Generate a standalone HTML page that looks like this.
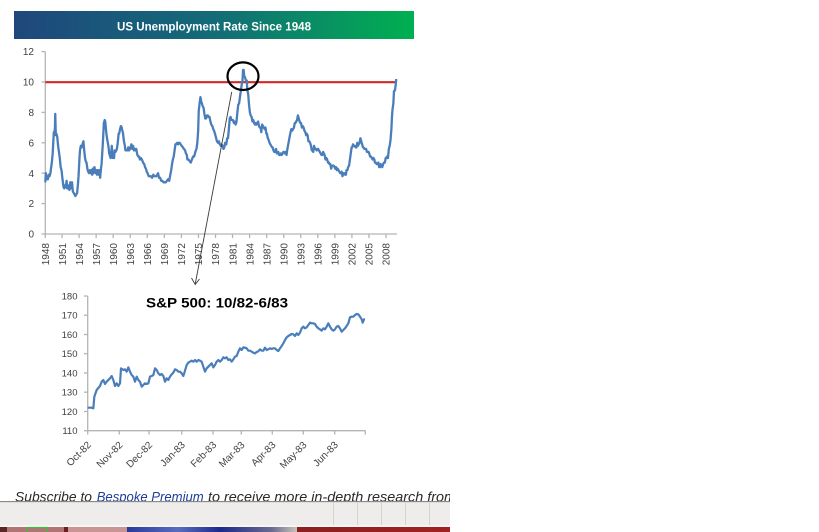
<!DOCTYPE html>
<html>
<head>
<meta charset="utf-8">
<style>
  html,body{margin:0;padding:0;background:#fff;}
  body{width:819px;height:532px;overflow:hidden;}
  svg{display:block;}
  text{font-family:"Liberation Sans",Arial,sans-serif;}
</style>
</head>
<body>
<svg width="819" height="532" viewBox="0 0 819 532" xmlns="http://www.w3.org/2000/svg">
  <defs>
    <linearGradient id="hdr" x1="0" y1="0" x2="1" y2="0">
      <stop offset="0" stop-color="#1f477c"/>
      <stop offset="0.5" stop-color="#136b78"/>
      <stop offset="1" stop-color="#00b050"/>
    </linearGradient>
    <linearGradient id="tbBlue" x1="0" y1="0" x2="1" y2="0">
      <stop offset="0" stop-color="#2a3a9a"/>
      <stop offset="0.3" stop-color="#5a6cc0"/>
      <stop offset="0.55" stop-color="#1c2a8c"/>
      <stop offset="0.85" stop-color="#6a6a90"/>
      <stop offset="1" stop-color="#c8c4b8"/>
    </linearGradient>
    <linearGradient id="tbRed" x1="0" y1="0" x2="1" y2="0">
      <stop offset="0" stop-color="#8a2020"/>
      <stop offset="1" stop-color="#a02222"/>
    </linearGradient>
    <clipPath id="txtclip"><rect x="0" y="480" width="450" height="21"/></clipPath>
  </defs>

  <rect width="819" height="532" fill="#fff"/>

  <!-- Header -->
  <rect x="14" y="11" width="400" height="28" fill="url(#hdr)"/>
  <text x="214" y="30.5" text-anchor="middle" font-size="12" font-weight="bold" fill="#fff" textLength="194" lengthAdjust="spacingAndGlyphs">US Unemployment Rate Since 1948</text>

  <!-- Top chart axes -->
  <g stroke="#b4b4b4" stroke-width="1.3" fill="none">
    <line x1="45.3" y1="51.6" x2="45.3" y2="234"/>
    <line x1="45.3" y1="234" x2="397" y2="234"/>
    <line x1="41.5" y1="51.6" x2="45.3" y2="51.6"/>
    <line x1="41.5" y1="82" x2="45.3" y2="82"/>
    <line x1="41.5" y1="112.4" x2="45.3" y2="112.4"/>
    <line x1="41.5" y1="142.8" x2="45.3" y2="142.8"/>
    <line x1="41.5" y1="173.2" x2="45.3" y2="173.2"/>
    <line x1="41.5" y1="203.6" x2="45.3" y2="203.6"/>
    <line x1="41.5" y1="234" x2="45.3" y2="234"/>
    <line x1="45.3" y1="234" x2="45.3" y2="238"/>
    <line x1="62.05" y1="234" x2="62.05" y2="238"/>
    <line x1="79.1" y1="234" x2="79.1" y2="238"/>
    <line x1="96.15" y1="234" x2="96.15" y2="238"/>
    <line x1="113.2" y1="234" x2="113.2" y2="238"/>
    <line x1="130.25" y1="234" x2="130.25" y2="238"/>
    <line x1="147.3" y1="234" x2="147.3" y2="238"/>
    <line x1="164.35" y1="234" x2="164.35" y2="238"/>
    <line x1="181.4" y1="234" x2="181.4" y2="238"/>
    <line x1="198.45" y1="234" x2="198.45" y2="238"/>
    <line x1="215.5" y1="234" x2="215.5" y2="238"/>
    <line x1="232.55" y1="234" x2="232.55" y2="238"/>
    <line x1="249.6" y1="234" x2="249.6" y2="238"/>
    <line x1="266.65" y1="234" x2="266.65" y2="238"/>
    <line x1="283.7" y1="234" x2="283.7" y2="238"/>
    <line x1="300.75" y1="234" x2="300.75" y2="238"/>
    <line x1="317.8" y1="234" x2="317.8" y2="238"/>
    <line x1="334.85" y1="234" x2="334.85" y2="238"/>
    <line x1="351.9" y1="234" x2="351.9" y2="238"/>
    <line x1="368.95" y1="234" x2="368.95" y2="238"/>
    <line x1="386" y1="234" x2="386" y2="238"/>
  </g>

  <!-- Top y labels -->
  <g font-size="10" fill="#404040" text-anchor="end">
    <text x="34" y="55.2">12</text>
    <text x="34" y="85.6">10</text>
    <text x="34" y="116">8</text>
    <text x="34" y="146.4">6</text>
    <text x="34" y="176.8">4</text>
    <text x="34" y="207.2">2</text>
    <text x="34" y="237.6">0</text>
  </g>

  <!-- Top x labels -->
  <g font-size="10" fill="#404040" text-anchor="end">
    <text transform="translate(49,243) rotate(-90)">1948</text>
    <text transform="translate(65.75,243) rotate(-90)">1951</text>
    <text transform="translate(82.8,243) rotate(-90)">1954</text>
    <text transform="translate(99.85,243) rotate(-90)">1957</text>
    <text transform="translate(116.9,243) rotate(-90)">1960</text>
    <text transform="translate(133.95,243) rotate(-90)">1963</text>
    <text transform="translate(151,243) rotate(-90)">1966</text>
    <text transform="translate(168.05,243) rotate(-90)">1969</text>
    <text transform="translate(185.1,243) rotate(-90)">1972</text>
    <text transform="translate(202.15,243) rotate(-90)">1975</text>
    <text transform="translate(219.2,243) rotate(-90)">1978</text>
    <text transform="translate(236.25,243) rotate(-90)">1981</text>
    <text transform="translate(253.3,243) rotate(-90)">1984</text>
    <text transform="translate(270.35,243) rotate(-90)">1987</text>
    <text transform="translate(287.4,243) rotate(-90)">1990</text>
    <text transform="translate(304.45,243) rotate(-90)">1993</text>
    <text transform="translate(321.5,243) rotate(-90)">1996</text>
    <text transform="translate(338.55,243) rotate(-90)">1999</text>
    <text transform="translate(355.6,243) rotate(-90)">2002</text>
    <text transform="translate(372.65,243) rotate(-90)">2005</text>
    <text transform="translate(389.7,243) rotate(-90)">2008</text>
  </g>

  <!-- Red 10% line -->
  <line x1="45.3" y1="82.2" x2="396.5" y2="82.2" stroke="#cf2a28" stroke-width="2.2"/>

  <!-- Unemployment series -->
  <g transform="matrix(5.683 0 0 -15.2 45.3 234)">
    <polyline fill="none" stroke="#4a7ebb" stroke-width="2.3" stroke-linejoin="round" vector-effect="non-scaling-stroke" points="0,3.4 0.1,4.0 0.2,3.6 0.3,3.8 0.45,3.6 0.6,3.9 0.75,3.8 0.9,4.0 1.0,4.3 1.15,4.7 1.3,5.3 1.4,6.0 1.5,6.7 1.6,6.6 1.7,7.0 1.75,7.9 1.85,6.5 1.95,6.6 2.1,6.4 2.25,5.8 2.4,5.4 2.55,5.0 2.7,4.4 2.85,4.2 3.0,3.7 3.1,3.4 3.2,3.1 3.35,3.0 3.5,3.2 3.6,3.1 3.75,3.5 3.85,3.0 4.0,3.2 4.1,3.0 4.25,2.9 4.4,3.4 4.5,3.0 4.6,3.1 4.7,3.4 4.85,2.8 5.0,2.7 5.15,2.6 5.3,2.5 5.45,2.6 5.6,2.7 5.75,3.3 5.85,3.8 6.0,4.9 6.1,5.5 6.25,5.8 6.4,5.7 6.55,5.9 6.7,6.1 6.8,5.7 6.9,5.3 7.0,5.0 7.1,4.8 7.25,4.7 7.4,4.3 7.55,4.1 7.7,4.0 7.85,4.2 8.0,4.0 8.1,4.2 8.25,3.9 8.35,4.3 8.5,4.0 8.65,4.4 8.8,4.1 8.9,4.0 9.0,4.2 9.1,3.9 9.25,4.2 9.4,3.9 9.55,4.2 9.65,3.7 9.8,4.3 9.9,4.6 10.0,5.2 10.1,5.8 10.2,6.5 10.3,7.3 10.45,7.5 10.55,7.4 10.65,7.0 10.75,6.6 10.9,6.2 11.0,6.0 11.1,5.8 11.25,5.3 11.4,5.1 11.5,5.0 11.6,5.3 11.7,5.8 11.8,5.2 11.9,5.0 12.0,5.2 12.1,5.0 12.2,5.5 12.35,5.4 12.5,5.5 12.6,5.6 12.75,6.0 12.9,6.6 13.0,6.6 13.15,6.9 13.3,7.1 13.45,7.0 13.55,6.8 13.65,6.7 13.8,6.2 13.9,6.0 14.0,5.8 14.1,5.5 14.3,5.5 14.45,5.5 14.6,5.7 14.75,5.5 14.9,5.6 15.0,5.7 15.15,5.9 15.3,5.6 15.45,5.8 15.6,5.5 15.75,5.6 15.9,5.5 16.0,5.6 16.2,5.2 16.35,5.1 16.5,5.1 16.65,4.9 16.8,5.0 17.0,4.9 17.2,4.7 17.4,4.6 17.55,4.4 17.7,4.3 17.85,4.1 18.0,4.0 18.2,3.8 18.4,3.8 18.6,3.8 18.8,3.7 19.0,3.9 19.2,3.8 19.4,3.8 19.55,3.8 19.7,3.9 19.85,4.0 20.0,3.7 20.2,3.7 20.4,3.5 20.6,3.5 20.8,3.4 21.0,3.4 21.2,3.4 21.4,3.5 21.6,3.6 21.8,3.5 22.0,3.9 22.15,4.2 22.3,4.6 22.45,4.9 22.6,5.1 22.75,5.5 22.9,5.9 23.0,5.9 23.2,6.0 23.35,5.9 23.5,6.0 23.65,6.0 23.8,5.9 24.0,5.8 24.2,5.7 24.4,5.6 24.6,5.5 24.75,5.3 24.9,5.2 25.0,4.9 25.2,4.9 25.4,4.8 25.6,4.7 25.8,4.9 26.0,5.1 26.2,5.1 26.4,5.4 26.6,5.6 26.75,6.0 26.9,6.8 27.0,8.1 27.15,8.6 27.3,9.0 27.45,8.7 27.55,8.6 27.7,8.4 27.85,8.3 28.0,7.9 28.15,7.6 28.3,7.6 28.45,7.8 28.6,7.8 28.75,7.7 28.9,7.7 29.0,7.5 29.2,7.2 29.4,7.1 29.55,6.9 29.7,6.8 29.85,6.6 30.0,6.4 30.2,6.1 30.4,6.0 30.55,6.1 30.7,5.9 30.9,5.8 31.0,5.9 31.2,5.8 31.35,5.6 31.5,5.7 31.65,6.0 31.85,5.9 32.0,6.3 32.15,6.3 32.3,6.9 32.45,7.6 32.6,7.7 32.75,7.5 32.9,7.5 33.0,7.5 33.2,7.3 33.35,7.4 33.5,7.2 33.65,7.4 33.8,8.0 33.95,8.5 34.1,8.6 34.25,9.0 34.4,9.4 34.55,9.8 34.7,10.1 34.8,10.8 34.9,10.8 35.0,10.4 35.15,10.3 35.3,10.1 35.45,10.1 35.55,9.5 35.7,9.2 35.85,8.5 36.0,8.0 36.15,7.8 36.3,7.7 36.45,7.4 36.6,7.5 36.75,7.3 36.9,7.2 37.0,7.3 37.15,7.2 37.3,7.3 37.45,7.4 37.6,7.1 37.75,7.0 37.9,7.0 38.0,6.7 38.15,7.2 38.3,7.1 38.45,7.0 38.6,6.9 38.75,7.0 38.9,6.6 39.0,6.6 39.15,6.3 39.3,6.2 39.45,6.0 39.6,5.9 39.75,5.8 39.9,5.7 40.0,5.7 40.15,5.5 40.3,5.4 40.45,5.4 40.6,5.6 40.75,5.3 40.9,5.3 41.0,5.4 41.15,5.2 41.3,5.2 41.45,5.3 41.6,5.2 41.75,5.3 41.9,5.4 42.0,5.4 42.15,5.3 42.3,5.4 42.45,5.2 42.6,5.6 42.75,5.9 42.9,6.2 43.0,6.4 43.15,6.7 43.3,6.9 43.45,6.8 43.6,6.9 43.75,7.0 43.9,7.3 44.0,7.3 44.15,7.4 44.3,7.5 44.45,7.8 44.6,7.6 44.75,7.4 44.9,7.3 45.0,7.3 45.15,7.0 45.3,7.1 45.45,7.0 45.6,6.8 45.75,6.7 45.9,6.5 46.0,6.6 46.15,6.5 46.3,6.1 46.45,6.1 46.6,6.0 46.75,5.8 46.9,5.5 47.0,5.6 47.15,5.4 47.3,5.8 47.45,5.6 47.6,5.6 47.75,5.5 47.9,5.6 48.0,5.6 48.15,5.5 48.3,5.4 48.45,5.3 48.6,5.2 48.75,5.2 48.9,5.4 49.0,5.3 49.15,5.2 49.3,4.9 49.45,5.0 49.6,4.9 49.75,4.7 49.9,4.7 50.0,4.6 50.15,4.6 50.3,4.3 50.45,4.5 50.6,4.5 50.75,4.5 50.9,4.4 51.0,4.3 51.15,4.4 51.3,4.2 51.45,4.3 51.6,4.2 51.75,4.1 51.9,4.0 52.0,4.0 52.15,4.1 52.3,3.8 52.45,4.0 52.6,4.0 52.75,3.9 52.9,3.9 53.0,4.2 53.15,4.2 53.3,4.4 53.45,4.5 53.6,4.9 53.75,5.3 53.9,5.7 54.0,5.7 54.15,5.9 54.3,5.8 54.45,5.8 54.6,5.7 54.75,5.7 54.9,6.0 55.0,5.8 55.15,5.9 55.3,6.0 55.45,6.3 55.6,6.1 55.75,5.9 55.9,5.7 56.0,5.7 56.15,5.6 56.3,5.6 56.45,5.6 56.6,5.4 56.75,5.4 56.9,5.4 57.0,5.3 57.15,5.1 57.3,5.1 57.45,5.0 57.6,4.9 57.75,5.0 57.9,4.9 58.0,4.7 58.15,4.7 58.3,4.6 58.45,4.6 58.6,4.7 58.75,4.4 58.9,4.4 59.0,4.6 59.15,4.5 59.3,4.4 59.45,4.6 59.6,4.7 59.75,4.7 59.9,5.0 60.0,5.0 60.15,5.1 60.3,5.0 60.45,5.6 60.6,5.8 60.75,6.2 60.9,6.9 61.0,7.7 61.1,8.2 61.25,8.6 61.35,9.4 61.45,9.4 61.55,9.5 61.65,9.8 61.75,10.2"/>
  </g>

  <!-- Circle highlight -->
  <ellipse cx="243" cy="76.2" rx="15.5" ry="13.8" fill="none" stroke="#000" stroke-width="2.2"/>

  <!-- Arrow -->
  <line x1="231.7" y1="92" x2="195.2" y2="284" stroke="#3a3a3a" stroke-width="0.9"/>
  <polyline points="191.5,278 195.2,284.5 199.5,279" fill="none" stroke="#3a3a3a" stroke-width="0.9"/>

  <!-- Bottom chart title -->
  <text x="146" y="307.3" font-size="14" font-weight="bold" fill="#000" textLength="142" lengthAdjust="spacingAndGlyphs">S&amp;P 500: 10/82-6/83</text>

  <!-- Bottom chart axes -->
  <g stroke="#b4b4b4" stroke-width="1.3" fill="none">
    <line x1="87.7" y1="296" x2="87.7" y2="430.7"/>
    <line x1="87.7" y1="430.7" x2="365.5" y2="430.7"/>
    <line x1="84" y1="296" x2="87.7" y2="296"/>
    <line x1="84" y1="315.2" x2="87.7" y2="315.2"/>
    <line x1="84" y1="334.5" x2="87.7" y2="334.5"/>
    <line x1="84" y1="353.7" x2="87.7" y2="353.7"/>
    <line x1="84" y1="373" x2="87.7" y2="373"/>
    <line x1="84" y1="392.2" x2="87.7" y2="392.2"/>
    <line x1="84" y1="411.5" x2="87.7" y2="411.5"/>
    <line x1="84" y1="430.7" x2="87.7" y2="430.7"/>
    <line x1="87.7" y1="430.7" x2="87.7" y2="434.5"/>
    <line x1="119.3" y1="430.7" x2="119.3" y2="434.5"/>
    <line x1="149" y1="430.7" x2="149" y2="434.5"/>
    <line x1="181.7" y1="430.7" x2="181.7" y2="434.5"/>
    <line x1="213" y1="430.7" x2="213" y2="434.5"/>
    <line x1="241.3" y1="430.7" x2="241.3" y2="434.5"/>
    <line x1="272.3" y1="430.7" x2="272.3" y2="434.5"/>
    <line x1="303.3" y1="430.7" x2="303.3" y2="434.5"/>
    <line x1="334.7" y1="430.7" x2="334.7" y2="434.5"/>
    <line x1="365.3" y1="430.7" x2="365.3" y2="434.5"/>
  </g>

  <!-- Bottom y labels -->
  <g font-size="9.5" fill="#404040" text-anchor="end">
    <text x="77.5" y="299.4">180</text>
    <text x="77.5" y="318.6">170</text>
    <text x="77.5" y="337.9">160</text>
    <text x="77.5" y="357.1">150</text>
    <text x="77.5" y="376.4">140</text>
    <text x="77.5" y="395.6">130</text>
    <text x="77.5" y="414.9">120</text>
    <text x="77.5" y="434.1">110</text>
  </g>

  <!-- Bottom x labels -->
  <g font-size="10" fill="#404040" text-anchor="end">
    <text transform="translate(91.7,445.5) rotate(-45)">Oct-82</text>
    <text transform="translate(123.3,445.5) rotate(-45)">Nov-82</text>
    <text transform="translate(153,445.5) rotate(-45)">Dec-82</text>
    <text transform="translate(185.7,445.5) rotate(-45)">Jan-83</text>
    <text transform="translate(217,445.5) rotate(-45)">Feb-83</text>
    <text transform="translate(245.3,445.5) rotate(-45)">Mar-83</text>
    <text transform="translate(276.3,445.5) rotate(-45)">Apr-83</text>
    <text transform="translate(307.3,445.5) rotate(-45)">May-83</text>
    <text transform="translate(338.7,445.5) rotate(-45)">Jun-83</text>
  </g>

  <!-- S&P series -->
  <g transform="translate(40,280) scale(0.333333)">
    <polyline fill="none" stroke="#4a7ebb" stroke-width="2.2" stroke-linejoin="round" vector-effect="non-scaling-stroke" points="143,383 155,383 160,385 163,350 170,330 180,318 185,305 190,300 195,312 200,305 210,295 215,288 220,300 225,318 230,310 235,318 240,310 243,265 250,270 255,268 260,275 265,262 270,275 275,285 280,290 285,305 290,290 295,300 300,305 305,320 310,315 315,310 320,312 325,310 330,290 335,288 340,285 345,265 350,270 355,280 360,285 365,282 370,288 375,305 380,295 385,300 390,290 395,283 400,278 405,268 410,270 415,275 420,275 425,280 430,288 435,272 440,255 445,248 450,245 455,242 460,245 465,240 470,245 475,240 480,242 485,245 490,260 495,275 500,265 505,260 510,255 515,250 520,262 525,255 530,245 535,240 540,245 545,240 550,232 555,235 560,232 565,240 570,238 575,245 580,238 585,230 590,228 595,215 600,205 605,210 610,202 615,203 620,205 625,212 630,212 635,215 640,218 645,220 650,216 655,214 660,208 665,212 670,212 675,203 680,210 685,208 690,205 695,207 700,205 705,205 710,210 715,213 720,205 725,198 730,190 735,180 740,172 745,168 750,165 755,162 760,163 765,168 770,160 775,165 780,158 785,145 790,140 795,145 800,142 805,135 810,128 815,130 820,130 825,132 830,140 835,145 840,148 845,152 850,145 855,148 860,140 865,130 870,140 875,148 880,152 885,148 890,140 895,138 900,145 905,155 910,150 915,145 920,138 925,130 930,112 935,110 940,110 945,105 950,102 955,103 960,110 965,118 968,128 972,118 975,118"/>
  </g>

  <!-- Subscribe text (clipped) -->
  <g clip-path="url(#txtclip)" font-size="14" font-style="italic">
    <text x="15" y="501.5" fill="#2a2a2a" textLength="77" lengthAdjust="spacingAndGlyphs">Subscribe to</text>
    <text x="96.7" y="501.5" fill="#1f3e9a" textLength="107" lengthAdjust="spacingAndGlyphs">Bespoke Premium</text>
    <text x="208" y="501.5" fill="#2a2a2a" textLength="248" lengthAdjust="spacingAndGlyphs">to receive more in-depth research from</text>
  </g>

  <!-- Status bar -->
  <rect x="0" y="501" width="450" height="1.3" fill="#8a8a8a"/>
  <rect x="0" y="502.3" width="450" height="23" fill="#efedeb"/>
  <g stroke="#d6d2ce" stroke-width="1">
    <line x1="333.5" y1="502.3" x2="333.5" y2="525.3"/>
    <line x1="357.5" y1="502.3" x2="357.5" y2="525.3"/>
    <line x1="381.5" y1="502.3" x2="381.5" y2="525.3"/>
    <line x1="405.5" y1="502.3" x2="405.5" y2="525.3"/>
    <line x1="429.5" y1="502.3" x2="429.5" y2="525.3"/>
  </g>
  <rect x="0" y="525.3" width="450" height="1.7" fill="#f8f6f4"/>

  <!-- Taskbar strip -->
  <rect x="0" y="527" width="450" height="5" fill="#5a2626"/>
  <rect x="7" y="527" width="57" height="5" fill="#b07474"/>
  <rect x="27" y="527.5" width="20" height="5" fill="none" stroke="#3cc03c" stroke-width="1.2"/>
  <rect x="64" y="527" width="4" height="5" fill="#6a2020"/>
  <rect x="68" y="527" width="59" height="5" fill="#c89494"/>
  <rect x="127" y="527" width="170" height="5" fill="url(#tbBlue)"/>
  <rect x="297" y="527" width="153" height="5" fill="url(#tbRed)"/>
</svg>
</body>
</html>
